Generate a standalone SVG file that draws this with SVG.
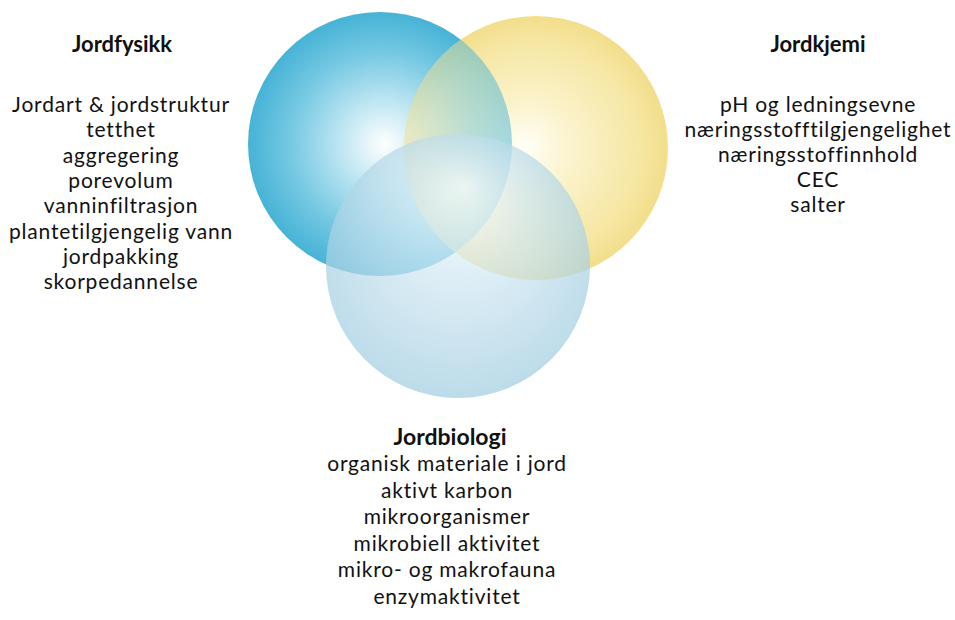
<svg xmlns="http://www.w3.org/2000/svg" width="955" height="620" viewBox="0 0 955 620">
<style>
text{font-family:Lato,"Liberation Sans",sans-serif;fill:#111;text-anchor:middle;}
.h{font-weight:bold;font-size:22px;}
.t{font-size:21px;letter-spacing:0.8px;}
</style>
<defs>
<radialGradient id="gBlue" cx="0.5" cy="0.5" r="0.5" fx="0.52" fy="0.5">
<stop offset="0" stop-color="#ffffff"/>
<stop offset="0.3" stop-color="#c4e8f3"/>
<stop offset="0.7" stop-color="#74c8e2"/>
<stop offset="1" stop-color="#46b3d6"/>
</radialGradient>
<radialGradient id="gYellow" cx="0.5" cy="0.5" r="0.5" fx="0.45" fy="0.5">
<stop offset="0" stop-color="#fffff8"/>
<stop offset="0.35" stop-color="#fbf3cc"/>
<stop offset="0.8" stop-color="#f6e7a4"/>
<stop offset="1" stop-color="#f2de8a"/>
</radialGradient>
<radialGradient id="gBio" cx="0.5" cy="0.45" r="0.55" fx="0.52" fy="0.2">
<stop offset="0" stop-color="#ffffff"/>
<stop offset="0.4" stop-color="#d4e9f3"/>
<stop offset="1" stop-color="#a2cde1"/>
</radialGradient>
<circle id="cBlue" cx="380" cy="144" r="132"/>
<clipPath id="clipYellow"><circle cx="536" cy="148" r="132"/></clipPath>
</defs>
<g id="circle-jordfysikk">
<use href="#cBlue" fill="url(#gBlue)"/>
</g>
<g id="circle-jordkjemi">
<circle cx="536" cy="148" r="132" fill="url(#gYellow)"/>
</g>
<g id="overlap-fysikk-kjemi">
<use href="#cBlue" fill="url(#gBlue)" clip-path="url(#clipYellow)" opacity="0.5"/>
</g>
<g id="circle-jordbiologi">
<circle cx="458" cy="266" r="132" fill="url(#gBio)" opacity="0.72"/>
</g>
<g id="connectors"></g>
<g id="label-jordfysikk">
<text class="h" x="122" y="52">Jordfysikk</text>
<text class="t" x="121" y="112">Jordart &amp; jordstruktur</text>
<text class="t" x="121" y="137">tetthet</text>
<text class="t" x="121" y="162.5">aggregering</text>
<text class="t" x="121" y="188">porevolum</text>
<text class="t" x="121" y="213">vanninfiltrasjon</text>
<text class="t" x="121" y="238.5">plantetilgjengelig vann</text>
<text class="t" x="121" y="264">jordpakking</text>
<text class="t" x="121" y="289">skorpedannelse</text>
</g>
<g id="label-jordkjemi">
<text class="h" x="818" y="52">Jordkjemi</text>
<text class="t" x="818" y="112">pH og ledningsevne</text>
<text class="t" x="818" y="137">næringsstofftilgjengelighet</text>
<text class="t" x="818" y="162">næringsstoffinnhold</text>
<text class="t" x="818" y="187">CEC</text>
<text class="t" x="818" y="212">salter</text>
</g>
<g id="label-jordbiologi">
<text class="h" x="450" y="445" style="font-size:23px">Jordbiologi</text>
<text class="t" x="447" y="471">organisk materiale i jord</text>
<text class="t" x="447" y="498">aktivt karbon</text>
<text class="t" x="447" y="524">mikroorganismer</text>
<text class="t" x="447" y="551">mikrobiell aktivitet</text>
<text class="t" x="447" y="577">mikro- og makrofauna</text>
<text class="t" x="447" y="604">enzymaktivitet</text>
</g>
</svg>
